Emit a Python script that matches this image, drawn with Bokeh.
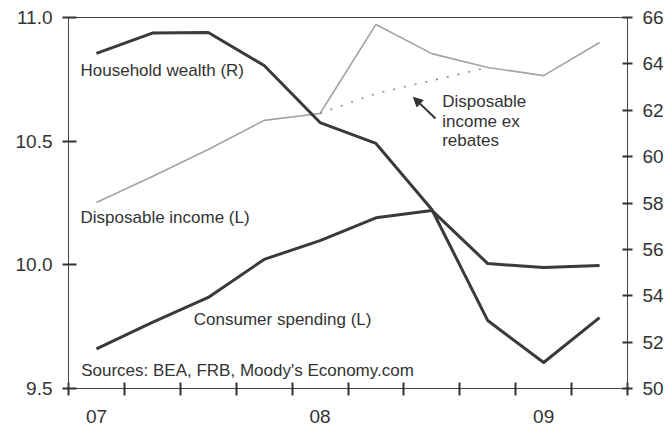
from bokeh.plotting import figure
from bokeh.models import (Range1d, LinearAxis, FixedTicker, NumeralTickFormatter,
                          ColumnDataSource, Arrow, NormalHead)
from bokeh.core.properties import value
from bokeh.embed import file_html
from bokeh.resources import INLINE

# ---- data ----
quarters = ["2007Q1", "2007Q2", "2007Q3", "2007Q4",
            "2008Q1", "2008Q2", "2008Q3", "2008Q4",
            "2009Q1", "2009Q2"]
household_wealth = [64.45, 65.33, 65.35, 63.93, 61.47, 60.57, 57.72, 52.93, 51.12, 53.06]   # right axis
consumer_spending = [9.660, 9.767, 9.868, 10.022, 10.098, 10.190, 10.220, 10.005, 9.989, 9.997]  # left
disposable_income = [10.252, 10.357, 10.466, 10.584, 10.612, 10.972, 10.854, 10.798, 10.765, 10.899]  # left
ex_rebates_quarters = ["2008Q1", "2008Q2", "2008Q3", "2008Q4"]
disposable_ex_rebates = [10.612, 10.693, 10.745, 10.798]
year_labels = ["07", "08", "09"]
left_ticks = [9.5, 10.0, 10.5, 11.0]
right_ticks = [50, 52, 54, 56, 58, 60, 62, 64, 66]

# quarter positions: each quarter occupies one unit, points at its middle
x_all = [quarters.index(q) + 0.5 for q in quarters]
x_ex = [quarters.index(q) + 0.5 for q in ex_rebates_quarters]
year_pos = [quarters.index("20" + y + "Q1") + 0.5 for y in year_labels]
quarter_edges = list(range(len(quarters) + 1))

FONT = "Liberation Sans"
AX = "#444444"
TICK = "#333333"
TXT = "#333333"

p = figure(width=667, height=429,
           x_range=Range1d(0, len(quarters)), y_range=Range1d(9.5, 11.0),
           output_backend="svg", toolbar_location=None,
           min_border_left=68, min_border_right=40, min_border_top=17, min_border_bottom=41)
p.grid.visible = False
p.outline_line_color = AX
p.outline_line_width = 1
p.background_fill_color = "white"
p.border_fill_color = "white"

p.extra_y_ranges = {"right": Range1d(50, 66)}

# bottom axis: quarter ticks (as minor), year labels centred in first quarter
xa = p.xaxis[0]
xa.ticker = FixedTicker(ticks=year_pos, minor_ticks=quarter_edges)
xa.major_label_overrides = {pos: lab for pos, lab in zip(year_pos, year_labels)}
xa.major_tick_in = 0
xa.major_tick_out = 0
xa.minor_tick_in = 6
xa.minor_tick_out = 7
xa.minor_tick_line_color = TICK
xa.minor_tick_line_width = 2
xa.major_label_standoff = 14

# left axis
ya = p.yaxis[0]
ya.ticker = FixedTicker(ticks=left_ticks, minor_ticks=[])
ya.formatter = NumeralTickFormatter(format="0.0")
ya.major_tick_in = 8
ya.major_tick_out = 6
ya.major_label_standoff = 10

# right axis
ra = LinearAxis(y_range_name="right", ticker=FixedTicker(ticks=right_ticks, minor_ticks=[]))
ra.major_tick_in = 5
ra.major_tick_out = 5
ra.major_label_standoff = 10
p.add_layout(ra, "right")

for ax in [xa, ya, ra]:
    ax.axis_line_color = AX
    ax.axis_line_width = 1
    ax.major_tick_line_color = TICK
    ax.major_tick_line_width = 2
    ax.major_label_text_font = FONT
    ax.major_label_text_font_size = "19px"
    ax.major_label_text_color = TXT
ya.minor_tick_line_color = None
ra.minor_tick_line_color = None

# ---- series ----
p.line(x_all, disposable_income, line_color="#a3a3a3", line_width=1.6)
p.line(x_ex, disposable_ex_rebates, line_color="#8c8c8c", line_width=1.6, line_dash="2 9")
p.line(x_all, consumer_spending, line_color="#3a3a3a", line_width=3, line_join="round")
p.line(x_all, household_wealth, y_range_name="right", line_color="#3a3a3a", line_width=3,
       line_join="round")

# ---- annotations ----
labels = ColumnDataSource(dict(
    x=[0.215, 0.215, 2.2415, 0.227, 6.685, 6.685, 6.685],
    y=[10.786, 10.192, 9.779, 9.573, 10.662, 10.581, 10.503],
    text=["Household wealth (R)", "Disposable income (L)", "Consumer spending (L)",
          "Sources: BEA, FRB, Moody's Economy.com", "Disposable", "income ex", "rebates"],
))
p.text(x="x", y="y", text="text", source=labels, text_font=value(FONT),
       text_font_size="17px", text_color=TXT, text_align="left", text_baseline="alphabetic")

p.add_layout(Arrow(end=NormalHead(size=9, fill_color="#333333", line_color="#333333"),
                   x_start=6.565, y_start=10.592, x_end=6.172, y_end=10.677,
                   line_color="#333333", line_width=2))

open("out.html", "w").write(file_html(p, INLINE))
